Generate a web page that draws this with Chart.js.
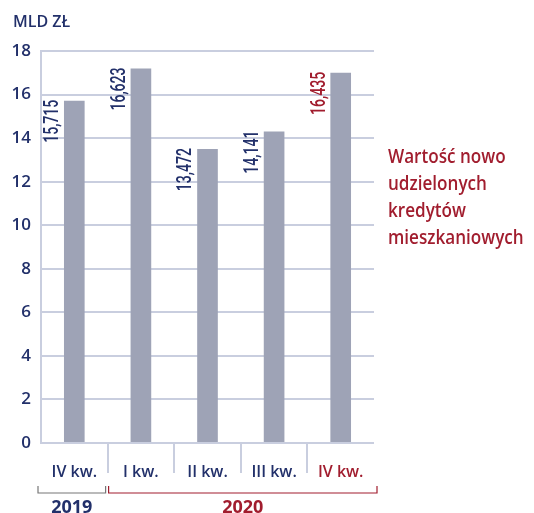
<!DOCTYPE html>
<html>
<head>
<meta charset="utf-8">
<script src="https://cdn.jsdelivr.net/npm/chart.js@4"></script>
<style>
  html, body { margin: 0; padding: 0; background: #fff; }
  #wrap { width: 534px; height: 513px; position: relative; }
</style>
</head>
<body>
<div id="wrap"><canvas id="wykres"></canvas></div>
<script>
// dane
var kwartaly = ['IV kw.', 'I kw.', 'II kw.', 'III kw.', 'IV kw.'];
var wysokosci = [15.72, 17.2, 13.5, 14.3, 17.0];
var etykiety = ['15,715', '16,623', '13,472', '14,141', '16,435'];
var lata = ['2019', '2020'];
var rokKwartalow = [1, 4];
var opis = ['Wartość nowo', 'udzielonych', 'kredytów', 'mieszkaniowych'];

var granat = '#22306a';
var czerwien = '#a11d2e';
var siatka = '#c9cedf';
var kolorEtykiety = function (i) { return i === kwartaly.length - 1 ? czerwien : granat; };

var dodatki = {
    id: 'dodatki',
    afterDraw: function (chart) {
        var ctx = chart.ctx;
        var area = chart.chartArea;
        var meta = chart.getDatasetMeta(0);

        // wartości nad słupkami (obrócone, zwężone)
        ctx.save();
        ctx.font = '500 21px Roboto, sans-serif';
        meta.data.forEach(function (bar, i) {
            ctx.save();
            ctx.translate(bar.x - bar.width / 2 - 11, bar.y - 1);
            ctx.rotate(-Math.PI / 2);
            ctx.scale(0.67, 1);
            ctx.fillStyle = kolorEtykiety(i);
            ctx.textAlign = 'right';
            ctx.textBaseline = 'middle';
            ctx.fillText(etykiety[i], 0, 0);
            ctx.restore();
        });
        ctx.restore();

        // separatory pod osią
        var krok = (area.right - area.left) / kwartaly.length;
        ctx.save();
        ctx.strokeStyle = siatka;
        ctx.lineWidth = 2;
        for (var i = 1; i < kwartaly.length; i++) {
            var sx = Math.round(area.left + krok * i);
            ctx.beginPath();
            ctx.moveTo(sx, area.bottom);
            ctx.lineTo(sx, area.bottom + 30);
            ctx.stroke();
        }
        ctx.restore();

        // klamry lat
        var start = 0;
        ctx.save();
        ctx.font = 'bold 18px "Open Sans", sans-serif';
        ctx.textAlign = 'center';
        ctx.textBaseline = 'middle';
        lata.forEach(function (rok, j) {
            var x0 = area.left + krok * start - 3 + (j > 0 ? 4 : 0);
            var x1 = area.left + krok * (start + rokKwartalow[j]) - 2 + (j === lata.length - 1 ? 5 : 0);
            var kolor = j === lata.length - 1 ? czerwien : '#777';
            ctx.strokeStyle = kolor;
            ctx.lineWidth = 1.2;
            ctx.beginPath();
            ctx.moveTo(x0, area.bottom + 43);
            ctx.lineTo(x0, area.bottom + 50);
            ctx.lineTo(x1, area.bottom + 50);
            ctx.lineTo(x1, area.bottom + 43);
            ctx.stroke();
            ctx.fillStyle = j === lata.length - 1 ? czerwien : granat;
            ctx.fillText(rok, (x0 + x1) / 2, area.bottom + 65);
            start += rokKwartalow[j];
        });
        ctx.restore();

        // jednostka
        ctx.save();
        ctx.font = '600 16px "Open Sans", sans-serif';
        ctx.fillStyle = granat;
        ctx.textBaseline = 'middle';
        ctx.fillText('MLD ZŁ', 13, 22);
        ctx.restore();

        // opis po prawej
        ctx.save();
        ctx.font = '600 19px "Open Sans", sans-serif';
        ctx.fillStyle = czerwien;
        ctx.textBaseline = 'alphabetic';
        opis.forEach(function (linia, k) {
            ctx.save();
            ctx.translate(388, 163 + k * 27);
            ctx.scale(0.9, 1);
            ctx.fillText(linia, 0, 0);
            ctx.restore();
        });
        ctx.restore();
    }
};

new Chart(document.getElementById('wykres').getContext('2d'), {
    type: 'bar',
    data: {
        labels: kwartaly,
        datasets: [{
            data: wysokosci,
            backgroundColor: '#9ea3b6',
            barPercentage: 0.31,
            categoryPercentage: 1
        }]
    },
    options: {
        responsive: true,
        maintainAspectRatio: false,
        animation: false,
        layout: { padding: { top: 51, right: 160, left: 0, bottom: 0 } },
        plugins: { legend: { display: false }, tooltip: { enabled: false } },
        scales: {
            x: {
                afterFit: function (s) { s.height = 70; },
                grid: { display: false },
                border: { display: false },
                ticks: {
                    padding: 12,
                    font: { family: 'Open Sans', size: 16, weight: '600' },
                    color: function (c) { return kolorEtykiety(c.index); }
                }
            },
            y: {
                min: 0,
                max: 18,
                afterFit: function (s) { s.width = 41; },
                ticks: {
                    stepSize: 2,
                    padding: 10,
                    font: { family: 'Open Sans', size: 17, weight: '600' },
                    color: granat
                },
                grid: { color: siatka, lineWidth: 2, drawTicks: false },
                border: { display: true, color: siatka, width: 2 }
            }
        }
    },
    plugins: [dodatki]
});
</script>
</body>
</html>
